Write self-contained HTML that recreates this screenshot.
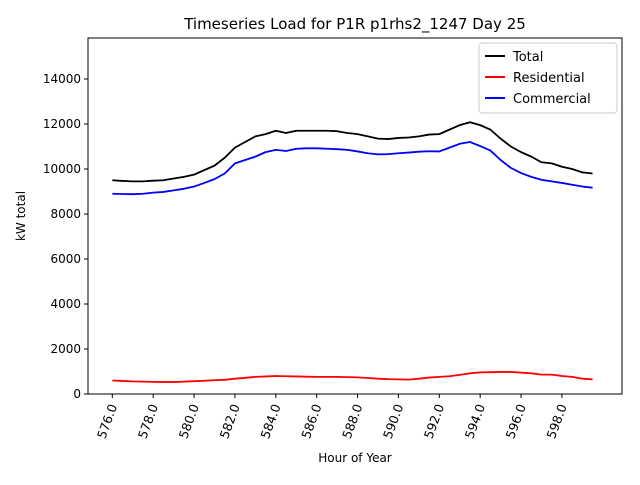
<!DOCTYPE html>
<html><head><meta charset="utf-8"><style>
body{margin:0;background:#fff;font-family:"Liberation Sans","DejaVu Sans",sans-serif}
svg text{font-family:"DejaVu Sans","Liberation Sans",sans-serif}
</style></head><body>
<svg id="chart" width="640" height="480">
<rect width="640" height="480" fill="#fff"/>
<text x="355" y="29" font-size="15" text-anchor="middle">Timeseries Load for P1R p1rhs2_1247  Day 25</text>
<g id="plot"></g>
<rect x="88" y="38" width="534" height="356" fill="none" stroke="#000" stroke-width="1"/>
<text x="355" y="462" font-size="12" text-anchor="middle">Hour of Year</text>
<text x="25" y="216" font-size="12" text-anchor="middle" transform="rotate(-90 25 216)">kW total</text>
<g>
<rect x="479" y="43" width="138" height="70" rx="3" fill="#fff" stroke="#ccc" stroke-width="1"/>
<line x1="485" y1="56" x2="505" y2="56" stroke="#000" stroke-width="2"/>
<text x="513" y="61" font-size="13">Total</text>
<line x1="485" y1="77" x2="505" y2="77" stroke="#f00" stroke-width="2"/>
<text x="513" y="82" font-size="13">Residential</text>
<line x1="485" y1="98" x2="505" y2="98" stroke="#00f" stroke-width="2"/>
<text x="513" y="103" font-size="13">Commercial</text>
</g>
</svg>
<script>
const startHour = 576;
const stepHours = 0.5;
const totalLoad = [9500,9470,9450,9450,9480,9500,9580,9650,9750,9950,10150,10500,10950,11200,11450,11550,11700,11600,11700,11700,11700,11700,11680,11600,11550,11450,11350,11330,11380,11400,11450,11530,11550,11750,11950,12080,11950,11750,11350,11000,10750,10550,10300,10250,10100,10000,9850,9800];
const residentialLoad = [600,580,560,550,540,530,530,550,570,590,610,630,680,720,760,780,800,790,780,770,760,760,760,750,740,710,680,660,650,640,680,730,760,790,850,920,960,970,980,980,950,920,860,860,800,760,680,650];
const commercialLoad = [8900,8890,8880,8900,8950,8980,9050,9120,9220,9380,9550,9800,10250,10400,10550,10750,10850,10800,10900,10920,10920,10900,10880,10850,10780,10700,10650,10660,10700,10730,10770,10790,10780,10950,11120,11200,11020,10820,10400,10050,9820,9650,9520,9450,9380,9300,9220,9170];
const yTicks = [0,2000,4000,6000,8000,10000,12000,14000];
const xTicks = [576,578,580,582,584,586,588,590,592,594,596,598];

const NS = "http://www.w3.org/2000/svg";
const g = document.getElementById('plot');
const X0=88,X1=622,Y0=394,Y1=38;
const xMin=574.81,xMax=600.94,yMin=0,yMax=15822;
const xs=v=>X0+(v-xMin)/(xMax-xMin)*(X1-X0);
const ys=v=>Y0-(v-yMin)/(yMax-yMin)*(Y0-Y1);
function mk(tag,attrs){const e=document.createElementNS(NS,tag);for(const k in attrs)e.setAttribute(k,attrs[k]);g.appendChild(e);return e;}

yTicks.forEach(t=>{
  const l=mk('line',{x1:X0-4,x2:X0,y1:ys(t),y2:ys(t),stroke:'#000'});
  
  
  const tx=mk('text',{x:X0-7,y:ys(t)+4,'font-size':12,'text-anchor':'end'});
  tx.textContent=t;
  
  
});
xTicks.forEach(t=>{
  const x=xs(t);
  const l=mk('line',{x1:x,x2:x,y1:Y0,y2:Y0+4,stroke:'#000'});
  
  
  const tx=mk('text',{x:0,y:0,'font-size':12.5,'text-anchor':'end',transform:`translate(${x+5},${Y0+12}) rotate(-70)`});
  tx.textContent=t.toFixed(1);
  
  
});
function series(arr,color,name){
  const pts=arr.map((v,i)=>xs(startHour+i*stepHours).toFixed(2)+','+ys(v).toFixed(2)).join(' ');
  const p=mk('polyline',{points:pts,fill:'none',stroke:color,'stroke-width':1.8,'stroke-linejoin':'round'});
  
  
}
series(totalLoad,'#000','total-line');
series(residentialLoad,'#f00','residential-line');
series(commercialLoad,'#00f','commercial-line');
</script>
</body></html>
